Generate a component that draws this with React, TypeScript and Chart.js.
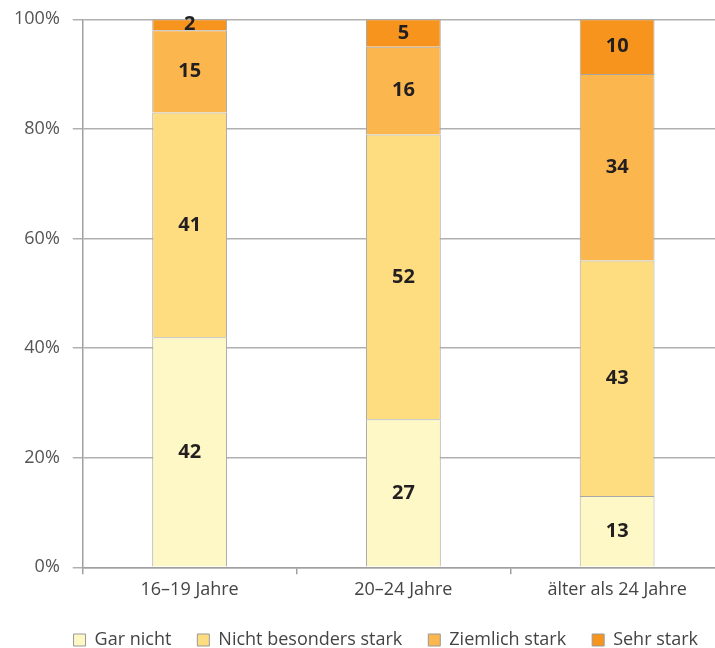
import React, { useEffect, useRef } from "react";
import { Chart, registerables } from "chart.js";

Chart.register(...registerables);

const categories = ["16–19 Jahre", "20–24 Jahre", "älter als 24 Jahre"];
const seriesNames = ["Gar nicht", "Nicht besonders stark", "Ziemlich stark", "Sehr stark"];
const garNicht = [42, 27, 13];
const nichtBesonders = [41, 52, 43];
const ziemlich = [15, 16, 34];
const sehr = [2, 5, 10];
const yTicks = [0, 20, 40, 60, 80, 100];
const colors = ["#FEF8C6", "#FEDD80", "#FBB64E", "#F7941E"];

const FONT = "'Open Sans', 'Noto Sans', sans-serif";

const valueLabels = {
  id: "valueLabels",
  afterDatasetsDraw(chart: any) {
    const ctx = chart.ctx;
    ctx.save();
    ctx.font = `bold 20px ${FONT}`;
    ctx.fillStyle = "#231f20";
    ctx.textAlign = "center";
    ctx.textBaseline = "middle";
    chart.data.datasets.forEach((ds: any, di: number) => {
      const meta = chart.getDatasetMeta(di);
      meta.data.forEach((bar: any, i: number) => {
        const v = ds.data[i];
        const yc = (bar.y + bar.base) / 2;
        ctx.fillText(String(v), bar.x, yc);
      });
    });
    ctx.restore();
  },
};

export default function App() {
  const ref = useRef<HTMLCanvasElement>(null);
  useEffect(() => {
    if (!ref.current) return;
    const data = [garNicht, nichtBesonders, ziemlich, sehr];
    const chart = new Chart(ref.current, {
      type: "bar",
      data: {
        labels: categories,
        datasets: seriesNames.map((name, i) => ({
          label: name,
          data: data[i],
          backgroundColor: colors[i],
          borderColor: "#a8a8a8",
          borderWidth: 1,
          categoryPercentage: 1,
          barPercentage: 0.35,
        })),
      },
      options: {
        animation: false,
        responsive: true,
        maintainAspectRatio: false,
        layout: { padding: { top: 6, left: 1, right: 0, bottom: 0 } },
        plugins: {
          tooltip: { enabled: false },
          legend: {
            position: "bottom",
            align: "end",
            labels: {
              boxWidth: 12,
              boxHeight: 12,
              padding: 26,
              color: "#444",
              font: { family: FONT, size: 18 },
              generateLabels: (c: any) =>
                c.data.datasets.map((ds: any, i: number) => ({
                  text: ds.label,
                  fillStyle: ds.backgroundColor,
                  strokeStyle: "#999",
                  lineWidth: 1,
                  hidden: false,
                  datasetIndex: i,
                  fontColor: "#444",
                })),
            },
          },
        },
        scales: {
          x: {
            stacked: true,
            offset: true,
            grid: {
              offset: true,
              drawOnChartArea: false,
              drawTicks: true,
              tickLength: 7,
              color: "#a0a0a0",
              lineWidth: 1.5,
            },
            border: { color: "#a0a0a0", width: 1.5 },
            ticks: {
              color: "#444",
              font: { family: FONT, size: 18, lineHeight: 1.15 },
              padding: 5,
            },
          },
          y: {
            stacked: true,
            min: 0,
            max: 100,
            afterBuildTicks: (axis: any) => {
              axis.ticks = yTicks.map((v) => ({ value: v }));
            },
            grid: {
              color: "#b0b0b0",
              lineWidth: 1.5,
              tickLength: 10,
            },
            border: { color: "#a0a0a0", width: 1.5 },
            ticks: {
              color: "#555",
              font: { family: FONT, size: 18, lineHeight: 0.7 },
              padding: 13,
              callback: (v: any) => v + "%",
            },
          },
        },
      },
      plugins: [valueLabels],
    });
    return () => chart.destroy();
  }, []);
  return (
    <div style={{ position: "absolute", left: 0, top: 0, width: 715, height: 648, overflow: "hidden", background: "#fff" }}>
      <div style={{ position: "relative", width: 724, height: 659 }}>
        <canvas ref={ref} />
      </div>
    </div>
  );
}
